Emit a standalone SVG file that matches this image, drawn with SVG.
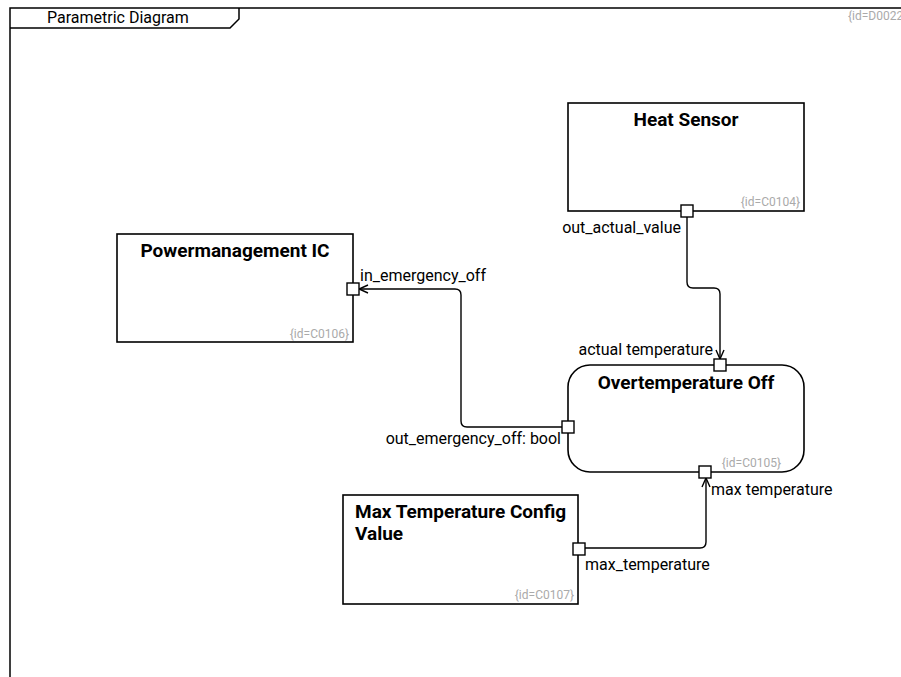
<svg xmlns="http://www.w3.org/2000/svg" width="901" height="677" viewBox="0 0 901 677">
<style>
.frame{fill:none;stroke:#000;stroke-width:1.5}
.box{fill:#fff;stroke:#000;stroke-width:1.6}
.port{fill:#fff;stroke:#000;stroke-width:1.4}
.conn{fill:none;stroke:#000;stroke-width:1.4}
.title{font-family:Roboto,"Liberation Sans",sans-serif;font-size:19px;font-weight:bold;fill:#000}
.lbl{font-family:Roboto,"Liberation Sans",sans-serif;font-size:16px;fill:#000}
.id{font-family:Roboto,"Liberation Sans",sans-serif;font-size:12px;fill:#aaa}
.ftitle{font-family:Roboto,"Liberation Sans",sans-serif;font-size:16px;fill:#000}
</style>
<defs>
<marker id="arr" viewBox="0 0 10 10" refX="10" refY="5" markerWidth="10" markerHeight="10" markerUnits="userSpaceOnUse" orient="auto">
<path d="M1,1 L10,5 L1,9" fill="none" stroke="#000" stroke-width="1.4"/>
</marker>
</defs>
<rect width="901" height="677" fill="#fff"/>
<g id="frame">
<path class="frame" d="M10,677 L10,8 L901,8"/>
<path class="frame" d="M10,28 L230,28 L239,19 L239,8"/>
<text class="ftitle" x="47" y="23">Parametric Diagram</text>
<text class="id" x="848" y="20">{id=D0022</text>
</g>
<g id="connectors">
<path class="conn" d="M687,217 L687,282 Q687,288 693,288 L714,288 Q720,288 720,294 L720,359" marker-end="url(#arr)"/>
<path class="conn" d="M562,427 L467,427 Q461,427 461,421 L461,295 Q461,289 455,289 L359,289" marker-end="url(#arr)"/>
<path class="conn" d="M585,548 L700,548 Q706,548 706,542 L706,478" marker-end="url(#arr)"/>
</g>
<g id="heat-sensor">
<rect class="box" x="568" y="103" width="236" height="108"/>
<text class="title" x="686" y="126" text-anchor="middle">Heat Sensor</text>
<text class="id" x="800" y="206" text-anchor="end">{id=C0104}</text>
<rect class="port" x="681" y="205" width="12" height="12"/>
<text class="lbl" x="681" y="233" text-anchor="end">out_actual_value</text>
</g>
<g id="powermanagement-ic">
<rect class="box" x="117" y="234" width="236" height="108"/>
<text class="title" x="235" y="257" text-anchor="middle">Powermanagement IC</text>
<text class="id" x="349" y="338" text-anchor="end">{id=C0106}</text>
<rect class="port" x="347" y="283" width="12" height="12"/>
<text class="lbl" x="360" y="281">in_emergency_off</text>
</g>
<g id="overtemperature-off">
<rect class="box" x="568" y="365" width="236" height="107" rx="22" ry="22"/>
<text class="title" x="686" y="389" text-anchor="middle">Overtemperature Off</text>
<text class="id" x="781" y="467" text-anchor="end">{id=C0105}</text>
<rect class="port" x="714" y="359" width="12" height="12"/>
<text class="lbl" x="713" y="355" text-anchor="end">actual temperature</text>
<rect class="port" x="562" y="421" width="12" height="12"/>
<text class="lbl" x="561" y="444" text-anchor="end">out_emergency_off: bool</text>
<rect class="port" x="699" y="466" width="12" height="12"/>
<text class="lbl" x="711" y="495">max temperature</text>
</g>
<g id="max-temperature-config-value">
<rect class="box" x="343" y="495" width="235" height="109"/>
<text class="title" x="355" y="518">Max Temperature Config</text>
<text class="title" x="355" y="540">Value</text>
<text class="id" x="574" y="599" text-anchor="end">{id=C0107}</text>
<rect class="port" x="573" y="543" width="12" height="12"/>
<text class="lbl" x="585" y="570">max_temperature</text>
</g>
</svg>
